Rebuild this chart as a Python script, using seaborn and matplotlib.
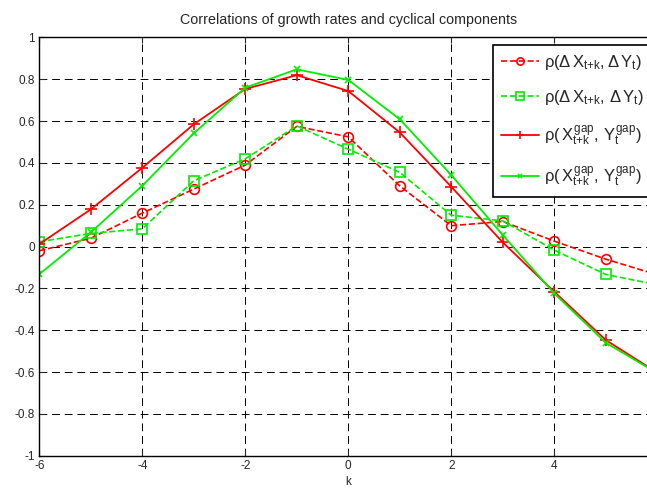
import matplotlib
matplotlib.use("Agg")
import matplotlib.pyplot as plt
import seaborn as sns

# lags
k = [-6, -5, -4, -3, -2, -1, 0, 1, 2, 3, 4, 5, 6]

# correlations
growth_red = [-0.02, 0.04, 0.16, 0.275, 0.39, 0.575, 0.525, 0.29, 0.10, 0.12, 0.026, -0.06, -0.135]
growth_green = [0.023, 0.063, 0.085, 0.315, 0.42, 0.577, 0.466, 0.355, 0.15, 0.123, -0.017, -0.133, -0.183]
gap_red = [0.012, 0.178, 0.377, 0.585, 0.754, 0.82, 0.744, 0.546, 0.286, 0.02, -0.216, -0.447, -0.603]
gap_green = [-0.132, 0.068, 0.291, 0.542, 0.76, 0.848, 0.797, 0.609, 0.342, 0.055, -0.224, -0.46, -0.605]

labels = [
    r"$\rho(\Delta\,X_{t{+}k},\Delta\,Y_t)$",
    r"$\rho(\Delta\,X_{t{+}k},\,\Delta\,Y_t)$",
    r"$\rho(\,X^{gap}_{t{+}k},\,Y^{gap}_t)$",
    r"$\rho(\,X^{gap}_{t{+}k},\,Y^{gap}_t)$",
]

sns.set_style("ticks")
plt.rcParams["font.family"] = ["Liberation Sans", "DejaVu Sans"]
plt.rcParams["mathtext.fontset"] = "custom"
plt.rcParams["mathtext.rm"] = "Liberation Sans"
plt.rcParams["mathtext.it"] = "Liberation Sans"
plt.rcParams["mathtext.bf"] = "Liberation Sans:bold"

fig = plt.figure(figsize=(6.47, 4.94), dpi=100)
ax = fig.add_axes([39.3 / 647, 38.3 / 494, 618 / 647, 418.2 / 494])

sns.lineplot(x=k, y=growth_red, ax=ax, color="red", linestyle="--", lw=1.2,
             marker="o", markersize=7, markerfacecolor="none",
             markeredgecolor="red", markeredgewidth=1.2, label=labels[0])
sns.lineplot(x=k, y=growth_green, ax=ax, color="#00ee00", linestyle="--", lw=1.2,
             marker="s", markersize=7, markerfacecolor="none",
             markeredgecolor="#00ee00", markeredgewidth=1.2, label=labels[1])
sns.lineplot(x=k, y=gap_red, ax=ax, color="red", linestyle="-", lw=1.3,
             marker="+", markersize=8, markeredgecolor="red",
             markeredgewidth=1.2, label=labels[2])
sns.lineplot(x=k, y=gap_green, ax=ax, color="#00ee00", linestyle="-", lw=1.3,
             marker="x", markersize=4, markeredgecolor="#00ee00",
             markeredgewidth=1.2, label=labels[3])

ax.set_xlim(-6, 6)
ax.set_ylim(-1, 1)
ax.set_xticks([-6, -4, -2, 0, 2, 4])
ax.set_xticklabels(["-6", "-4", "-2", "0", "2", "4"])
yt = [-1, -0.8, -0.6, -0.4, -0.2, 0, 0.2, 0.4, 0.6, 0.8, 1]
ax.set_yticks(yt)
ax.set_yticklabels(["-1", "-0.8", "-0.6", "-0.4", "-0.2", "0", "0.2", "0.4", "0.6", "0.8", "1"])
ax.tick_params(direction="in", length=4, labelsize=8.5, top=True, right=True, pad=3)
ax.grid(True, color="black", linestyle=(0, (8, 5)), linewidth=0.7)
for s in ax.spines.values():
    s.set_color("black")
    s.set_linewidth(1.0)

ax.set_title("Correlations of growth rates and cyclical components", fontsize=10.3, pad=10)
ax.set_xlabel("k", fontsize=8.5, labelpad=3)
ax.set_ylabel("")

leg = ax.legend(loc="upper left", bbox_to_anchor=(493 / 647, 1 - 45 / 494),
                bbox_transform=fig.transFigure, fontsize=12, frameon=True,
                fancybox=False, edgecolor="black", framealpha=1,
                handlelength=2.3, labelspacing=1.0, borderpad=0.45,
                handletextpad=0.3, borderaxespad=0, markerscale=0.75)
leg.get_frame().set_linewidth(1.2)

fig.savefig("out.png", dpi=100)
